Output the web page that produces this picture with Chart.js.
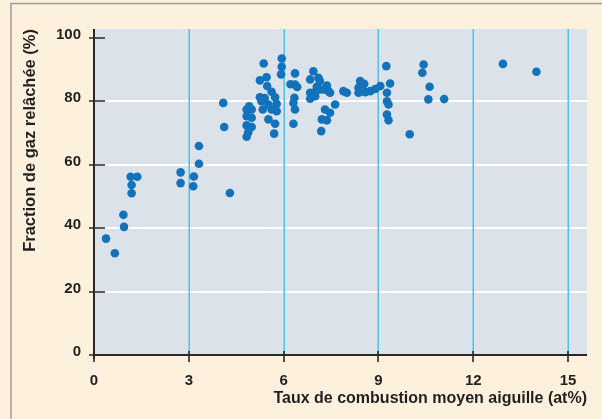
<!DOCTYPE html>
<html>
<head>
<meta charset="utf-8">
<script src="https://cdn.jsdelivr.net/npm/chart.js@4/dist/chart.umd.min.js"></script>
<style>
  html, body { margin: 0; padding: 0; background: #fdf0dc; }
  #wrap { width: 602px; height: 419px; position: relative; }
</style>
</head>
<body>
<div id="wrap"><canvas id="c" width="602" height="419"></canvas></div>
<script>
// ---- data ----
const burnup = [
  0.38, 0.66, 0.93, 0.95, 1.16, 1.37, 1.19, 1.19,
  2.74, 2.74, 3.16, 3.14, 3.32, 3.32, 4.30, 4.09, 4.12,
  4.91, 4.83, 4.99, 4.83, 4.99, 4.83, 4.99, 4.88, 4.83,
  5.37, 5.94, 5.94, 5.92, 6.36, 5.25, 5.46, 5.48, 6.36, 6.22,
  5.25, 5.62, 5.73, 6.34, 5.52, 5.78, 6.36, 5.52, 5.73, 5.70,
  6.31, 5.30, 5.40, 5.62, 5.78, 5.34, 6.31, 6.43,
  6.94, 6.84, 7.10, 7.37, 7.42, 7.15, 6.84, 6.84, 7.00, 7.89,
  8.00, 7.63, 7.31, 7.47, 7.21, 7.37, 7.19, 7.15, 6.99, 7.26, 7.47, 7.05,
  8.42, 8.37, 8.37, 8.58, 8.74, 8.90, 9.06, 8.55,
  9.25, 9.37, 9.27, 9.27, 9.32, 9.27, 9.32,
  9.99, 10.43, 10.39, 10.62, 10.58, 11.08, 12.94, 14.00
];
const gasRelease = [
  36.7, 32.1, 44.2, 40.4, 56.2, 56.2, 53.6, 51.0,
  57.6, 54.2, 56.3, 53.2, 60.3, 65.9, 51.1, 79.5, 71.9,
  78.4, 77.4, 77.4, 75.3, 74.8, 72.4, 71.9, 70.2, 68.8,
  91.9, 93.5, 90.9, 88.5, 88.8, 86.6, 87.6, 84.8, 85.3, 85.4,
  81.3, 83.0, 81.3, 81.1, 79.0, 79.2, 77.4, 74.3, 72.9, 69.8,
  72.9, 80.0, 81.0, 77.4, 76.9, 77.4, 79.5, 84.5,
  89.5, 86.9, 87.4, 85.0, 83.2, 83.7, 82.7, 80.8, 81.6, 83.2,
  82.7, 79.0, 77.4, 76.4, 74.3, 74.0, 70.6, 86.4, 82.9, 83.7, 82.7, 84.6,
  86.4, 84.3, 82.7, 82.9, 83.2, 83.9, 84.8, 85.5,
  91.1, 85.6, 82.7, 80.0, 79.0, 75.8, 74.0,
  69.6, 91.6, 89.0, 84.6, 80.6, 80.7, 91.8, 89.3
];
const xTicks = [0, 3, 6, 9, 12, 15];
const yTicks = [0, 20, 40, 60, 80, 100];
const xTitle = 'Taux de combustion moyen aiguille (at%)';
const yTitle = 'Fraction de gaz relâchée (%)';

const points = burnup.map((v, i) => ({ x: v, y: gasRelease[i] }));

const FONT = "'Liberation Sans', Arial, Helvetica, sans-serif";
const TXT = '#231f20';

const decor = {
  id: 'decor',
  beforeDraw(chart) {
    const { ctx, chartArea: a } = chart;
    ctx.save();
    ctx.fillStyle = '#fdf0dc';
    ctx.fillRect(0, 0, chart.width, chart.height);
    ctx.strokeStyle = '#9d9d9d';
    ctx.lineWidth = 1.5;
    ctx.beginPath();
    ctx.moveTo(11, chart.height);
    ctx.lineTo(11, 3.5);
    ctx.lineTo(chart.width, 3.5);
    ctx.stroke();
    ctx.fillStyle = '#dbe2ea';
    ctx.fillRect(a.left, a.top, a.right - a.left, a.bottom - a.top);
    ctx.restore();
  },
  beforeDatasetsDraw(chart) {
    const { ctx, chartArea: a, scales: { x, y } } = chart;
    ctx.save();
    ctx.strokeStyle = '#ffffff';
    ctx.lineWidth = 2;
    yTicks.filter(v => v > 0 && v < 100).forEach(v => {
      const py = Math.round(y.getPixelForValue(v));
      ctx.beginPath();
      ctx.moveTo(a.left, py);
      ctx.lineTo(a.right, py);
      ctx.stroke();
    });
    ctx.strokeStyle = '#55bde8';
    ctx.lineWidth = 1.5;
    xTicks.filter(v => v > 0).forEach(v => {
      const px = Math.round(x.getPixelForValue(v)) + 0.25;
      ctx.beginPath();
      ctx.moveTo(px, a.top);
      ctx.lineTo(px, a.bottom);
      ctx.stroke();
    });
    ctx.strokeStyle = '#2b2829';
    ctx.lineWidth = 2;
    ctx.beginPath();
    ctx.moveTo(a.left, a.top);
    ctx.lineTo(a.left, a.bottom + 4);
    ctx.moveTo(a.left - 1, a.bottom);
    ctx.lineTo(a.right, a.bottom);
    ctx.stroke();
    ctx.lineWidth = 1.6;
    ctx.beginPath();
    yTicks.forEach(v => {
      const py = Math.round(y.getPixelForValue(v));
      ctx.moveTo(a.left - 5, py);
      ctx.lineTo(a.left + 11, py);
    });
    xTicks.forEach(v => {
      const px = Math.round(x.getPixelForValue(v));
      ctx.moveTo(px, a.bottom - 4);
      ctx.lineTo(px, a.bottom + 7);
    });
    ctx.stroke();
    ctx.restore();
  }
};

new Chart(document.getElementById('c'), {
  type: 'scatter',
  data: {
    datasets: [{
      data: points,
      backgroundColor: '#1272bb',
      borderColor: '#1272bb',
      borderWidth: 0,
      pointRadius: 4.3,
      pointHoverRadius: 4.3
    }]
  },
  options: {
    responsive: false,
    animation: false,
    devicePixelRatio: 1,
    layout: { padding: { left: 0, top: 29, right: 15, bottom: 0 } },
    plugins: { legend: { display: false }, tooltip: { enabled: false } },
    scales: {
      x: {
        type: 'linear',
        min: 0,
        max: 15.6,
        afterBuildTicks: s => { s.ticks = xTicks.map(v => ({ value: v })); },
        afterFit: s => { s.height = 64; },
        grid: { display: false, drawTicks: false },
        border: { display: false },
        ticks: {
          font: { family: FONT, size: 15, weight: 'bold' },
          color: TXT,
          padding: 17,
          maxRotation: 0,
          autoSkip: false
        },
        title: {
          display: true,
          text: xTitle,
          align: 'end',
          color: TXT,
          font: { family: FONT, size: 16, weight: 'bold' },
          padding: { top: 0, bottom: 11 }
        }
      },
      y: {
        type: 'linear',
        min: 0,
        max: 102.8,
        afterBuildTicks: s => { s.ticks = yTicks.map(v => ({ value: v })); },
        afterFit: s => { s.width = 94; },
        grid: { display: false, drawTicks: false },
        border: { display: false },
        ticks: {
          font: { family: FONT, size: 15, weight: 'bold' },
          color: TXT,
          padding: 13,
          labelOffset: -3,
          autoSkip: false
        },
        title: {
          display: true,
          text: yTitle,
          align: 'end',
          color: TXT,
          font: { family: FONT, size: 16.5, weight: 'bold' },
          padding: { top: 21, bottom: 0 }
        }
      }
    }
  },
  plugins: [decor]
});
</script>
</body>
</html>
